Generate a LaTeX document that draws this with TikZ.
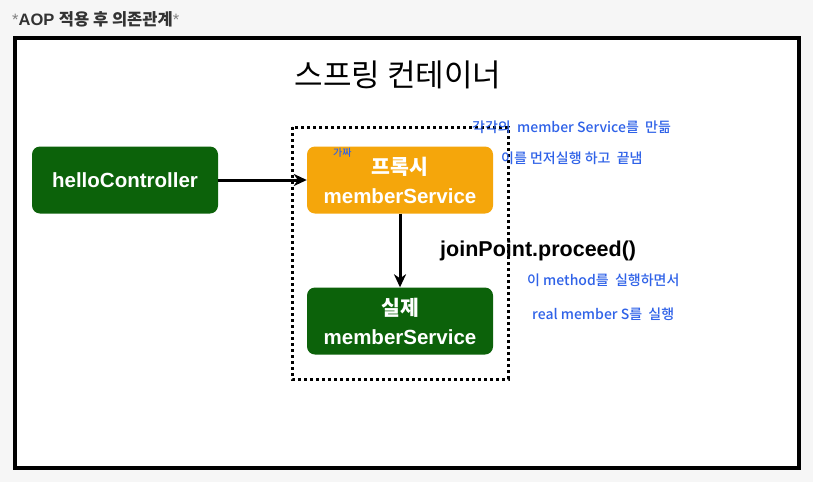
\documentclass[tikz,border=0pt]{standalone}
\usepackage{fontspec}
\setmainfont{Liberation Sans}
\newfontfamily\cjk{Noto Sans CJK KR}
\newfontfamily\hand{Noto Sans CJK KR Medium}
\usetikzlibrary{arrows.meta}
\definecolor{bggray}{HTML}{F6F6F6}
\definecolor{dgreen}{HTML}{0C620A}
\definecolor{orng}{HTML}{F5A60B}
\definecolor{penblue}{HTML}{2F62E8}
\definecolor{titlegray}{HTML}{333333}
\tikzset{
  box/.style={draw=none, rounded corners=8pt, minimum width=186pt, minimum height=67pt, align=center, text=white, font=\bfseries\fontsize{20.5}{29}\selectfont, inner sep=0pt},
  conn/.style={line width=3pt, -{Stealth[length=13pt,width=12pt,inset=4pt]}},
  note/.style={text=penblue, font=\hand\fontsize{14}{16}\selectfont, anchor=west, inner sep=0pt}
}
\begin{document}
\begin{tikzpicture}[x=1pt,y=-1pt]
\fill[bggray] (0,0) rectangle (813,482);
\useasboundingbox (0,0) rectangle (813,482);
\node[anchor=west, inner sep=0pt, font=\fontsize{16.5}{18}\selectfont] (title) at (12,19)
  {\textcolor{gray}{*}\textcolor{titlegray}{\textbf{AOP} {\cjk\bfseries 적용 후 의존관계}}\textcolor{gray}{*}};
\draw[line width=3.5pt, fill=white] (15,38) rectangle (799,468);
\node[font=\cjk\fontsize{31}{33}\selectfont, inner sep=0pt] (container) at (398,75) {스프링 컨테이너};
\draw[line width=3pt, dash pattern=on 3pt off 3pt] (292,127) rectangle (508,379);
\node[box, fill=orng] (proxy) at (400,180) {{\cjk\bfseries 프록시}\\memberService};
\node[box, fill=dgreen] (hello) at (125,180) {helloController};
\node[box, fill=dgreen] (real) at (400,321) {{\cjk\bfseries 실제}\\memberService};
\draw[conn] (hello.east) -- (proxy.west);
\draw[conn] (proxy.south) -- (real.north);
\node[anchor=west, inner sep=0pt, font=\bfseries\fontsize{21.5}{24}\selectfont] (jp) at (440,251) {joinPoint.proceed()};
\node[note, font=\hand\fontsize{10}{11}\selectfont] (fake) at (333,153) {가짜};
\node[note] (n1) at (472,127) {각각의\ \ member Service를\ \ 만듦};
\node[note] (n2) at (501,158) {이를 먼저실행 하고\ \ 끝냄};
\node[note] (n3) at (527,280) {이 method를\ \ 실행하면서};
\node[note] (n4) at (532,314) {real\ member S를\ \ 실행};
\end{tikzpicture}
\end{document}
